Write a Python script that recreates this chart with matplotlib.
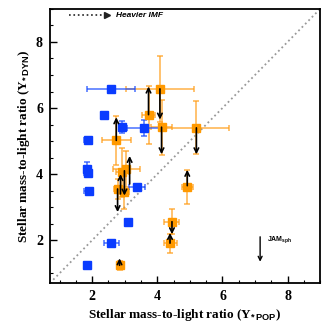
import numpy as np
import matplotlib
matplotlib.use('Agg')
import matplotlib.pyplot as plt

plt.rcParams['mathtext.fontset'] = 'custom'
plt.rcParams['mathtext.sf'] = 'Liberation Sans:bold'
plt.rcParams['mathtext.rm'] = 'Liberation Serif:bold'

# blue points (Y_POP, Y_DYN) with errors
blue_x = [2.58, 2.35, 2.93, 3.58, 1.87, 1.84, 1.86, 1.89, 3.38, 3.09, 2.59, 1.83]
blue_y = [6.58, 5.80, 5.43, 5.40, 5.02, 4.15, 4.02, 3.49, 3.61, 2.56, 1.90, 1.24]
blue_xerr = [0.75, 0.0, 0.12, 0.5, 0.12, 0.08, 0.1, 0.15, 0.25, 0.0, 0.22, 0.0]
blue_yerr = [0.0, 0.0, 0.18, 0.25, 0.0, 0.22, 0.1, 0.1, 0.0, 0.0, 0.0, 0.0]

# orange points
org_x = [4.08, 3.73, 4.13, 5.20, 2.74, 3.05, 2.93, 2.80, 2.97, 4.92, 4.45, 4.39, 2.84]
org_y = [6.58, 5.80, 5.42, 5.40, 5.02, 4.15, 4.05, 3.55, 3.45, 3.61, 2.56, 1.91, 1.24]
org_xerr = [1.05, 0.2, 0.33, 1.0, 0.45, 0.42, 0.2, 0.12, 0.15, 0.17, 0.23, 0.2, 0.08]
org_yerr = [1.0, 0.88, 0.83, 0.8, 0.73, 0.55, 0.75, 0.3, 0.5, 0.52, 0.37, 0.29, 0.13]

# black arrows (x, start y, end y)
arr_x = [4.08, 3.73, 4.13, 5.20, 2.74, 3.15, 2.78, 2.87, 2.99, 4.92, 4.45, 4.39, 2.84]
arr_y0 = [6.58, 5.80, 5.42, 5.40, 5.02, 3.70, 3.55, 3.40, 4.10, 3.65, 2.56, 1.91, 1.24]
arr_y1 = [5.65, 6.65, 4.60, 4.60, 5.72, 4.55, 2.85, 4.00, 3.35, 4.13, 2.18, 2.22, 1.45]

lims = (0.7, 9.0)
ticks = [2, 4, 6, 8]

fig = plt.figure(figsize=(3.28, 3.30), dpi=100)
ax = fig.add_axes([0.152, 0.142, 0.824, 0.831])

ax.plot(lims, lims, ls=':', color='#999999', lw=1.3, zorder=1)

ax.errorbar(org_x, org_y, xerr=org_xerr, yerr=org_yerr, fmt='s', color='#ff9900',
            ecolor=(1.0, 0.62, 0.1, 0.8), ms=5.5, elinewidth=1.1, capsize=2.5,
            capthick=1.1, zorder=3)
ax.errorbar(blue_x, blue_y, xerr=blue_xerr, yerr=blue_yerr, fmt='s', color='#0a3cff',
            ecolor=(0.1, 0.3, 1.0, 0.8), ms=5.5, elinewidth=1.1, capsize=2.5,
            capthick=1.1, zorder=3)

for x, y0, y1 in zip(arr_x, arr_y0, arr_y1):
    ax.annotate('', xy=(x, y1), xytext=(x, y0),
                arrowprops=dict(arrowstyle='->', color='black', lw=1.2,
                                mutation_scale=8, shrinkA=0, shrinkB=0), zorder=4)

# legend-like annotations
ax.plot([0.07, 0.2], [0.976, 0.976], transform=ax.transAxes, ls=':', color='#222222', lw=1.2)
ax.plot([0.212], [0.976], transform=ax.transAxes, marker='>', color='#222222', ms=4.5)
ax.text(0.243, 0.976, 'Heavier IMF', transform=ax.transAxes, fontsize=6,
        family='Liberation Sans', weight='bold', style='italic', va='center')

ax.annotate('', xy=(0.778, 0.078), xytext=(0.778, 0.169), xycoords='axes fraction',
            arrowprops=dict(arrowstyle='->', color='black', lw=1.0,
                            mutation_scale=7, shrinkA=0, shrinkB=0))
ax.text(0.805, 0.16, r'JAM$_{\mathsf{sph}}$', transform=ax.transAxes, fontsize=5,
        family='Liberation Sans', weight='bold', va='center')

ax.set_xlim(lims)
ax.set_ylim(lims)
ax.set_xticks(ticks)
ax.set_yticks(ticks)
ax.set_xticks(np.arange(1.0, 9.01, 0.5), minor=True)
ax.set_yticks(np.arange(1.0, 9.01, 0.5), minor=True)
ax.tick_params(which='both', direction='in', top=False, right=False)
ax.tick_params(which='major', length=5, width=1.0, pad=5)
ax.tick_params(which='minor', length=2.5, width=0.8)
for lab in ax.get_xticklabels() + ax.get_yticklabels():
    lab.set_family('Liberation Serif')
    lab.set_weight('bold')
    lab.set_fontsize(10)
for sp in ax.spines.values():
    sp.set_linewidth(1.3)

ax.set_xlabel(r'Stellar mass-to-light ratio (Υ$_{\mathsf{*\,POP}}$)', family='Liberation Serif',
              weight='bold', fontsize=9.5, labelpad=3)
ax.set_ylabel(r'Stellar mass-to-light ratio (Υ$_{\mathsf{*\,DYN}}$)', family='Liberation Serif',
              weight='bold', fontsize=9.5, labelpad=3)

fig.savefig('out.png', dpi=100)
